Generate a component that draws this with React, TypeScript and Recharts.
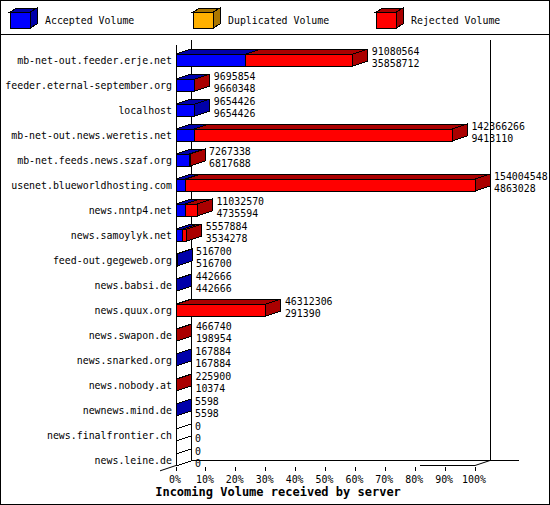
import React from 'react';
import { BarChart, Bar, XAxis, YAxis, ReferenceArea } from 'recharts';

const servers = [
  'mb-net-out.feeder.erje.net',
  'feeder.eternal-september.org',
  'localhost',
  'mb-net-out.news.weretis.net',
  'mb-net.feeds.news.szaf.org',
  'usenet.blueworldhosting.com',
  'news.nntp4.net',
  'news.samoylyk.net',
  'feed-out.gegeweb.org',
  'news.babsi.de',
  'news.quux.org',
  'news.swapon.de',
  'news.snarked.org',
  'news.nobody.at',
  'newnews.mind.de',
  'news.finalfrontier.ch',
  'news.leine.de',
];
const totalVolume = [
  91080564, 9695854, 9654426, 142366266, 7267338, 154004548, 11032570, 5557884,
  516700, 442666, 46312306, 466740, 167884, 225900, 5598, 0, 0,
];
const acceptedVolume = [
  35858712, 9660348, 9654426, 9413110, 6817688, 4863028, 4735594, 3534278,
  516700, 442666, 291390, 198954, 167884, 10374, 5598, 0, 0,
];
const duplicatedVolume = [0, 0, 0, 0, 0, 0, 0, 0, 0, 0, 0, 0, 0, 0, 0, 0, 0];
const percentTicks = [0, 10, 20, 30, 40, 50, 60, 70, 80, 90, 100];

const seriesInfo = [
  { key: 'accepted', name: 'Accepted Volume', front: '#0000FF', dark: '#0000AA' },
  { key: 'duplicated', name: 'Duplicated Volume', front: '#FFB000', dark: '#AA7600' },
  { key: 'rejected', name: 'Rejected Volume', front: '#FF0000', dark: '#AA0000' },
];

const MAX = Math.max(...totalVolume);
const data = servers.map((name, i) => ({
  name,
  accepted: acceptedVolume[i],
  duplicated: duplicatedVolume[i],
  rejected: totalVolume[i] - acceptedVolume[i] - duplicatedVolume[i],
  total: totalVolume[i],
}));

const DX = 15;
const DY = 5;
const FONT = "'DejaVu Sans Mono', 'Liberation Mono', monospace";

function MonoText({ x, y, anchor = 'start', size = 11, sx = 0.9, bold = false, children }: any) {
  return (
    <text
      transform={`translate(${x},${y}) scale(${sx},1)`}
      x={0}
      y={0}
      textAnchor={anchor}
      fontFamily={FONT}
      fontSize={size}
      fontWeight={bold ? 'bold' : 'normal'}
      fill="#000"
    >
      {children}
    </text>
  );
}

const lineStyle = { stroke: '#000', strokeWidth: 1, shapeRendering: 'crispEdges' as const };

function Box3D({ x, y, w, h, front, dark, side }: any) {
  return (
    <g>
      <polygon
        points={`${x},${y} ${x + DX},${y - DY} ${x + w + DX},${y - DY} ${x + w},${y}`}
        fill={dark}
        {...lineStyle}
      />
      {side ? (
        <polygon
          points={`${x + w},${y} ${x + w + DX},${y - DY} ${x + w + DX},${y + h - DY} ${x + w},${y + h}`}
          fill={side === 'white' ? '#FFFFFF' : dark}
          {...lineStyle}
        />
      ) : null}
      <rect x={x} y={y} width={w} height={h} fill={front} {...lineStyle} />
    </g>
  );
}

const AcceptedShape = (p: any) => {
  const { x, y, width, height, payload } = p;
  const last = payload.rejected === 0 && payload.duplicated === 0 && payload.accepted > 0;
  return (
    <Box3D x={x} y={y} w={width} h={height} front={seriesInfo[0].front} dark={seriesInfo[0].dark} side={last} />
  );
};

const DuplicatedShape = (p: any) => {
  const { x, y, width, height, payload } = p;
  if (!payload.duplicated) return <g />;
  return (
    <Box3D x={x} y={y} w={width} h={height} front={seriesInfo[1].front} dark={seriesInfo[1].dark} side={payload.rejected === 0} />
  );
};

const RejectedShape = (p: any) => {
  const { x, y, width, height, payload } = p;
  const side = payload.rejected > 0 ? true : payload.total === 0 ? 'white' : false;
  const endX = x + width + DX + 4;
  return (
    <g>
      {payload.rejected > 0 || payload.total === 0 ? (
        <Box3D x={x} y={y} w={width} h={height} front={seriesInfo[2].front} dark={seriesInfo[2].dark} side={side} />
      ) : null}
      <MonoText x={endX} y={y + 0.5}>{payload.total}</MonoText>
      <MonoText x={endX} y={y + 13}>{payload.accepted}</MonoText>
    </g>
  );
};

const Walls = (p: any) => {
  const { x, y, width, height } = p;
  const x0 = x;
  const x1 = x + width;
  const top = y - 2.5;
  const floor = y + height - 6.5;
  return (
    <g>
      <line x1={x0} y1={top} x2={x0} y2={floor} {...lineStyle} />
      <line x1={x0 + DX} y1={top - DY} x2={x0 + DX} y2={floor - DY} {...lineStyle} />
      <line x1={x0 - 16} y1={floor + (16 * DY) / DX} x2={x0 + DX} y2={floor - DY} stroke="#000" strokeWidth={1} />
      <line x1={x0 + DX} y1={floor - DY} x2={x1 + DX + 29} y2={floor - DY} {...lineStyle} />
      <line x1={x1 + DX} y1={top - DY} x2={x1 + DX} y2={floor - DY} {...lineStyle} />
      <line x1={x1 - 55} y1={floor} x2={x1} y2={floor} {...lineStyle} />
      <line x1={x1} y1={floor} x2={x1 + DX} y2={floor - DY} stroke="#000" strokeWidth={1} />
    </g>
  );
};

const XTick = (p: any) => {
  const { x, y, payload } = p;
  const pct = Math.round((payload.value / MAX) * 100);
  return (
    <g>
      <line x1={x} y1={y - 13.5} x2={x} y2={y - 9.5} {...lineStyle} />
      <MonoText x={x - 1} y={y + 2.5} anchor="middle">{`${pct}%`}</MonoText>
    </g>
  );
};

const YTick = (p: any) => {
  const { x, y, payload } = p;
  return <MonoText x={x} y={y + 4} anchor="end">{payload.value}</MonoText>;
};

function LegendOverlay() {
  return (
    <svg
      width={550}
      height={505}
      style={{ position: 'absolute', left: 0, top: 0, pointerEvents: 'none' }}
    >
      <rect x={0.5} y={0.5} width={549} height={504} fill="none" stroke="#000" strokeWidth={1} />
      <line x1={0} y1={34.5} x2={550} y2={34.5} stroke="#000" strokeWidth={1} />
      {seriesInfo.map((s, i) => {
        const bx = 10 + i * 183;
        return (
          <g key={s.key}>
            <polygon points={`${bx},${12} ${bx + 7},${8} ${bx + 27},${8} ${bx + 20},${12}`} fill={s.dark} {...lineStyle} />
            <polygon points={`${bx + 20},${12} ${bx + 27},${8} ${bx + 27},${24} ${bx + 20},${28}`} fill={s.dark} {...lineStyle} />
            <rect x={bx} y={12} width={20} height={16} fill={s.front} {...lineStyle} />
            <MonoText x={bx + 35} y={24}>{s.name}</MonoText>
          </g>
        );
      })}
      <MonoText x={278} y={496} anchor="middle" size={12} sx={1} bold>
        Incoming Volume received by server
      </MonoText>
    </svg>
  );
}

export default function App() {
  const xTicks = percentTicks.map((t) => (t / 100) * MAX);
  return (
    <div style={{ position: 'absolute', left: 0, top: 0, width: 550, height: 505, background: '#fff' }}>
      <BarChart
        width={550}
        height={505}
        data={data}
        layout="vertical"
        margin={{ top: 47, right: 75, bottom: 3, left: 0 }}
        barSize={12}
      >
        <ReferenceArea x1={0} x2={MAX} shape={Walls} fill="none" stroke="none" ifOverflow="visible" />
        <XAxis
          type="number"
          domain={[0, MAX]}
          ticks={xTicks}
          interval={0}
          height={30}
          axisLine={false}
          tickLine={false}
          tickSize={6}
          tickMargin={2}
          tick={<XTick />}
        />
        <YAxis
          type="category"
          dataKey="name"
          width={176}
          interval={0}
          axisLine={false}
          tickLine={false}
          tickSize={0}
          tickMargin={4}
          tick={<YTick />}
        />
        <Bar dataKey="accepted" stackId="v" shape={AcceptedShape} isAnimationActive={false} />
        <Bar dataKey="duplicated" stackId="v" shape={DuplicatedShape} isAnimationActive={false} />
        <Bar dataKey="rejected" stackId="v" shape={RejectedShape} isAnimationActive={false} />
      </BarChart>
      <LegendOverlay />
    </div>
  );
}
